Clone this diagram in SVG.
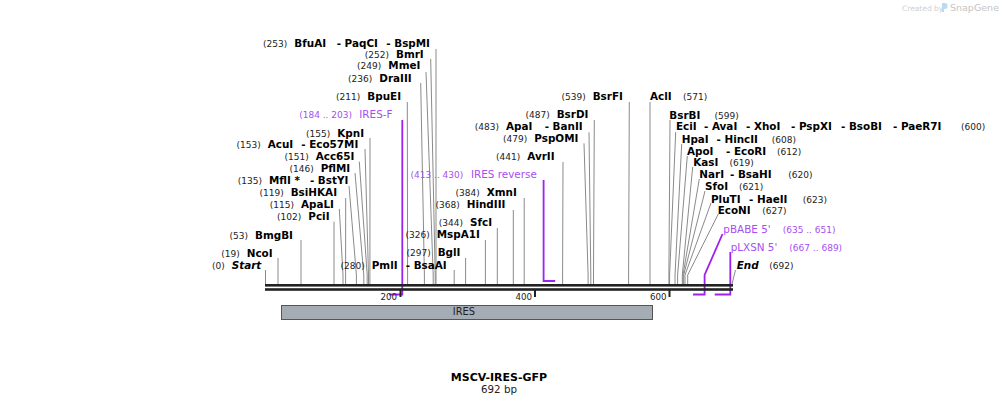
<svg xmlns="http://www.w3.org/2000/svg" width="999" height="405" viewBox="0 0 999 405">
<style>
text{font-family:"DejaVu Sans",Verdana,sans-serif}
.n{font-size:10.4px;font-weight:bold;fill:#000}
.e{text-anchor:end}
.i{font-style:italic}
.c{font-size:9px;fill:#222}
.ce{font-size:9px;fill:#222;text-anchor:end}
.p{font-size:10.4px;fill:#a64ff0}
.pc{font-size:9px;fill:#a64ff0}
.pce{font-size:9px;fill:#a64ff0;text-anchor:end}
.t{font-size:8.7px;fill:#222;text-anchor:end}
.cl{fill:none;stroke:#8a8a8a;stroke-width:1}
.pl{fill:none;stroke:#a020f0;stroke-width:1.8}
.tk{stroke:#222;stroke-width:2}
</style>
<rect width="999" height="405" fill="#fff"/>

<g id="credit">
<text x="902" y="10.5" style="font-size:7.5px;fill:#cfcfcf">Created by</text>
<path d="M942 3 h3 q2.5 0 2.5 2.5 v1 q0 2.5 -2.5 2.5 h-1 v3 h-2 z" fill="#bcd9f2"/>
<text x="950" y="11" style="font-size:9.5px;fill:#c4c4c4">SnapGene</text>
</g>

<g id="connectors">
<path class="cl" d="M436 49 V284"/>
<path class="cl" d="M430.7 59 L435.2 275 V284"/>
<path class="cl" d="M426 72 L433.2 275 V284"/>
<path class="cl" d="M420.7 83 L424.4 275 V284"/>
<path class="cl" d="M407.3 102 L407.6 275 V284"/>
<path class="cl" d="M370 138 L369.9 275 V284"/>
<path class="cl" d="M365 149 L368.5 275 V284"/>
<path class="cl" d="M359.3 161.7 L367.2 275 V284"/>
<path class="cl" d="M355 173 L363.8 275 V284"/>
<path class="cl" d="M349 186 L356.4 275 V284"/>
<path class="cl" d="M345.7 198 L345.6 275 V284"/>
<path class="cl" d="M339.3 209 L343 275 V284"/>
<path class="cl" d="M334 221.7 V284"/>
<path class="cl" d="M301 240 V284"/>
<path class="cl" d="M278 258 V284"/>
<path class="cl" d="M265.5 270 V284"/>
<path class="cl" d="M454.2 270 V284"/>
<path class="cl" d="M465.6 258 V284"/>
<path class="cl" d="M485.4 240 V284"/>
<path class="cl" d="M497.3 228 V284"/>
<path class="cl" d="M513.3 210 V284"/>
<path class="cl" d="M524.2 198 V284"/>
<path class="cl" d="M563 162 L562.6 275 V284"/>
<path class="cl" d="M584 143.3 L588.1 275 V284"/>
<path class="cl" d="M589 132.3 L590.8 275 V284"/>
<path class="cl" d="M594.3 120 L593.5 275 V284"/>
<path class="cl" d="M629.3 102 L628.6 275 V284"/>
<path class="cl" d="M650 102 V284"/>
<path class="cl" d="M670 120 L668.9 275 V284"/>
<path class="cl" d="M675.7 132 L669.6 275 V284"/>
<path class="cl" d="M681.7 144 L675 275 V284"/>
<path class="cl" d="M687.3 156 L677.6 275 V284"/>
<path class="cl" d="M692.7 167 L682.3 275 V284"/>
<path class="cl" d="M699.3 179 L683 275 V284"/>
<path class="cl" d="M705 191 L683.7 275 V284"/>
<path class="cl" d="M711 203 L685 275 V284"/>
<path class="cl" d="M718.3 214 L687.7 275 V284"/>
<path class="cl" d="M735.5 270 L732 284"/>
<path class="pl" d="M402.3 120 V294.5 H389.2"/>
<path class="pl" d="M543.6 180 V281 H555.2"/>
<path class="pl" d="M722.5 234 L704.6 275 V294.5 H693"/>
<path class="pl" d="M730.3 252 V294.5 H714.7"/>
</g>

<g id="backbone">
<rect x="265" y="284" width="468" height="2.6" fill="#222"/>
<rect x="265" y="288.2" width="468" height="2.6" fill="#222"/>
<line class="tk" x1="400.5" y1="289" x2="400.5" y2="297"/>
<line class="tk" x1="535" y1="289" x2="535" y2="297"/>
<line class="tk" x1="669.5" y1="289" x2="669.5" y2="297"/>
<text class="t" x="397" y="299.8">200</text>
<text class="t" x="532" y="299.8">400</text>
<text class="t" x="666.5" y="299.8">600</text>
</g>

<g id="IRES">
<rect x="281.5" y="305.5" width="371" height="14" fill="#a6acb4" stroke="#555" stroke-width="1"/>
<text x="464" y="314.7" text-anchor="middle" style="font-size:9.9px;fill:#222">IRES</text>
</g>

<g id="BfuAI"><text class="ce" x="287.3" y="47">(253)</text><text class="n" x="294.3" y="47">BfuAI</text><text class="n" x="336.7" y="47">- PaqCI</text><text class="n e" x="430" y="47">- BspMI</text></g>
<g id="BmrI"><text class="ce" x="389" y="58">(252)</text><text class="n" x="396" y="58">BmrI</text></g>
<g id="MmeI"><text class="ce" x="381.3" y="69.4">(249)</text><text class="n" x="388.3" y="69.4">MmeI</text></g>
<g id="DraIII"><text class="ce" x="372.3" y="82">(236)</text><text class="n" x="379.3" y="82">DraIII</text></g>
<g id="BpuEI"><text class="ce" x="360.3" y="100.4">(211)</text><text class="n" x="367.3" y="100.4">BpuEI</text></g>
<g id="IRES-F"><text class="pce" x="352" y="118">(184 .. 203)</text><text class="p" x="359.3" y="118">IRES-F</text></g>
<g id="KpnI"><text class="ce" x="330.3" y="137">(155)</text><text class="n" x="337.3" y="137">KpnI</text></g>
<g id="AcuI"><text class="ce" x="260.7" y="148">(153)</text><text class="n" x="267.7" y="148">AcuI</text><text class="n e" x="358.3" y="148">- Eco57MI</text></g>
<g id="Acc65I"><text class="ce" x="308.7" y="159.7">(151)</text><text class="n" x="315.7" y="159.7">Acc65I</text></g>
<g id="PflMI"><text class="ce" x="313.7" y="171.7">(146)</text><text class="n" x="320.7" y="171.7">PflMI</text></g>
<g id="MflI"><text class="ce" x="262" y="183.7">(135)</text><text class="n" x="269" y="183.7">MflI *</text><text class="n e" x="348.3" y="183.7">- BstYI</text></g>
<g id="BsiHKAI"><text class="ce" x="283.7" y="195.7">(119)</text><text class="n" x="290.7" y="195.7">BsiHKAI</text></g>
<g id="ApaLI"><text class="ce" x="294" y="208.2">(115)</text><text class="n" x="301" y="208.2">ApaLI</text></g>
<g id="PciI"><text class="ce" x="301.3" y="219.7">(102)</text><text class="n" x="308.3" y="219.7">PciI</text></g>
<g id="BmgBI"><text class="ce" x="248" y="238.7">(53)</text><text class="n" x="255" y="238.7">BmgBI</text></g>
<g id="NcoI"><text class="ce" x="239.7" y="256.7">(19)</text><text class="n" x="246.7" y="256.7">NcoI</text></g>
<g id="Start"><text class="ce" x="224.7" y="268.7">(0)</text><text class="n i" x="231.7" y="268.7">Start</text></g>
<g id="PmlI"><text class="ce" x="364.7" y="268.7">(280)</text><text class="n" x="371.7" y="268.7">PmlI</text><text class="n e" x="446.7" y="268.7">- BsaAI</text></g>
<g id="BglI"><text class="ce" x="430.7" y="256">(297)</text><text class="n" x="437.7" y="256">BglI</text></g>
<g id="MspA1I"><text class="ce" x="429.7" y="237.7">(326)</text><text class="n" x="436.7" y="237.7">MspA1I</text></g>
<g id="SfcI"><text class="ce" x="463" y="226">(344)</text><text class="n" x="470" y="226">SfcI</text></g>
<g id="HindIII"><text class="ce" x="459.7" y="208">(368)</text><text class="n" x="466.7" y="208">HindIII</text></g>
<g id="XmnI"><text class="ce" x="479.7" y="196">(384)</text><text class="n" x="486.7" y="196">XmnI</text></g>
<g id="IRES-reverse"><text class="pce" x="463.3" y="177.7">(413 .. 430)</text><text class="p" x="471" y="177.7">IRES reverse</text></g>
<g id="AvrII"><text class="ce" x="520.3" y="160.4">(441)</text><text class="n" x="527.3" y="160.4">AvrII</text></g>
<g id="PspOMI"><text class="ce" x="527.3" y="142">(479)</text><text class="n" x="534.3" y="142">PspOMI</text></g>
<g id="ApaI"><text class="ce" x="499" y="130.4">(483)</text><text class="n" x="506" y="130.4">ApaI</text><text class="n e" x="582.7" y="130.4">- BanII</text></g>
<g id="BsrDI"><text class="ce" x="549.7" y="118">(487)</text><text class="n" x="556.7" y="118">BsrDI</text></g>
<g id="BsrFI"><text class="ce" x="585.7" y="100.4">(539)</text><text class="n" x="592.7" y="100.4">BsrFI</text></g>
<g id="AclI"><text class="n" x="650" y="100.4">AclI</text><text class="c" x="683" y="100.4">(571)</text></g>
<g id="BsrBI"><text class="n" x="669.3" y="118.7">BsrBI</text><text class="c" x="714.5" y="118.7">(599)</text></g>
<g id="EciI"><text class="n" x="676" y="130.4">EciI</text><text class="n" x="704" y="130.4">- AvaI</text><text class="n" x="746" y="130.4">- XhoI</text><text class="n" x="791" y="130.4">- PspXI</text><text class="n" x="841" y="130.4">- BsoBI</text><text class="n" x="893" y="130.4">- PaeR7I</text><text class="c" x="961" y="130.4">(600)</text></g>
<g id="HpaI"><text class="n" x="681.7" y="142.7">HpaI</text><text class="n" x="716.5" y="142.7">- HincII</text><text class="c" x="771.7" y="142.7">(608)</text></g>
<g id="ApoI"><text class="n" x="687" y="154.7">ApoI</text><text class="n" x="726" y="154.7">- EcoRI</text><text class="c" x="777" y="154.7">(612)</text></g>
<g id="KasI"><text class="n" x="693.3" y="166">KasI</text><text class="c" x="729.5" y="166">(619)</text></g>
<g id="NarI"><text class="n" x="699.3" y="177.7">NarI</text><text class="n" x="730" y="177.7">- BsaHI</text><text class="c" x="788.3" y="177.7">(620)</text></g>
<g id="SfoI"><text class="n" x="705" y="190.4">SfoI</text><text class="c" x="739" y="190.4">(621)</text></g>
<g id="PluTI"><text class="n" x="711" y="203">PluTI</text><text class="n" x="749" y="203">- HaeII</text><text class="c" x="802.7" y="203">(623)</text></g>
<g id="EcoNI"><text class="n" x="717.7" y="214.4">EcoNI</text><text class="c" x="762.3" y="214.4">(627)</text></g>
<g id="pBABE5"><text class="p" x="723.3" y="232.7">pBABE 5'</text><text class="pc" x="782.7" y="232.7">(635 .. 651)</text></g>
<g id="pLXSN5"><text class="p" x="730.7" y="251">pLXSN 5'</text><text class="pc" x="789.3" y="251">(667 .. 689)</text></g>
<g id="End"><text class="n i" x="736.7" y="268.7">End</text><text class="c" x="769.3" y="268.7">(692)</text></g>

<g id="title">
<text x="499" y="381" text-anchor="middle" style="font-size:11px;font-weight:bold;fill:#000">MSCV-IRES-GFP</text>
<text x="499" y="393" text-anchor="middle" style="font-size:10.3px;fill:#222">692 bp</text>
</g>
</svg>
